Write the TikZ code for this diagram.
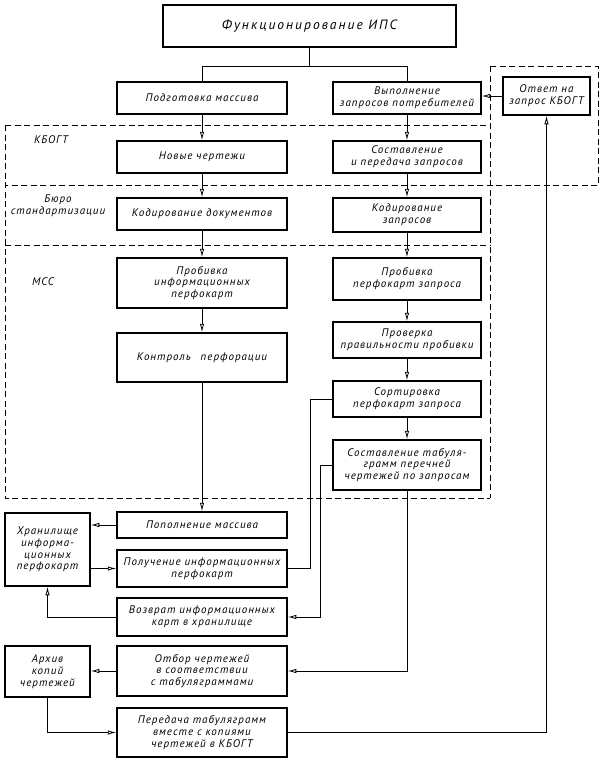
\documentclass[tikz,border=0pt]{standalone}
\usepackage{fontspec}
\setmainfont{PT Sans}[LetterSpace=9]
\newfontfamily\titlefont{PT Sans}[LetterSpace=15]
\usetikzlibrary{arrows.meta}
\begin{document}
\begin{tikzpicture}[x=1pt,y=1pt,
  box/.style={draw, line width=1.5pt, align=center, inner sep=1pt, font=\itshape\fontsize{11}{11.8}\selectfont},
  lab/.style={align=center, inner sep=0pt, font=\itshape\fontsize{11}{11.8}\selectfont},
  conn/.style={line width=0.8pt},
  arr/.style={conn, -{Latex[open,length=8.5pt,width=4.4pt]}},
  dline/.style={line width=0.9pt, dash pattern=on 6pt off 3.5pt}]
\useasboundingbox (0,0) rectangle (604,-761);
% dashed regions
\draw[dline] (5,-125) -- (490,-125);
\draw[dline] (490,-66) -- (598,-66) -- (598,-185) -- (5,-185);
\draw[dline] (490,-66) -- (490,-498);
\draw[dline] (5,-125) -- (5,-498) -- (490,-498);
\draw[dline] (5,-245) -- (490,-245);
% labels
\node[lab] (lkbogt) at (51,-140) {КБОГТ};
\node[lab] (lbur) at (58,-206) {Бюро\\стандартизации};
\node[lab] (lmss) at (43,-282) {МСС};
% boxes
\node[box, minimum width=293pt, minimum height=42pt, font=\titlefont\itshape\fontsize{13.5}{15}\selectfont] (top) at (309.5,-26) {Функционирование ИПС};
\node[box, minimum width=170pt, minimum height=32pt] (podg) at (202,-98) {Подготовка массива};
\node[box, minimum width=148pt, minimum height=32pt] (vyp) at (407,-98) {Выполнение\\запросов потребителей};
\node[box, minimum width=87pt, minimum height=38pt] (otvet) at (546.5,-96) {Ответ на\\запрос КБОГТ};
\node[box, minimum width=170pt, minimum height=32pt] (novye) at (202,-157) {Новые чертежи};
\node[box, minimum width=148pt, minimum height=32pt] (sost) at (407,-157) {Составление\\и передача запросов};
\node[box, minimum width=170pt, minimum height=32pt] (koddoc) at (202,-214) {Кодирование документов};
\node[box, minimum width=148pt, minimum height=34pt] (kodzap) at (407,-215) {Кодирование\\запросов};
\node[box, minimum width=170pt, minimum height=50pt] (prob1) at (202,-283) {Пробивка\\информационных\\перфокарт};
\node[box, minimum width=148pt, minimum height=42pt] (prob2) at (407,-279) {Пробивка\\перфокарт запроса};
\node[box, minimum width=148pt, minimum height=36pt] (prov) at (407,-340) {Проверка\\правильности пробивки};
\node[box, minimum width=170pt, minimum height=49pt] (kontr) at (202,-357.5) {Контроль\hspace{6pt} перфорации};
\node[box, minimum width=148pt, minimum height=36pt] (sort) at (407,-399) {Сортировка\\перфокарт запроса};
\node[box, minimum width=148pt, minimum height=50pt] (sosttab) at (407,-465) {Составление табуля-\\грамм перечней\\чертежей по запросам};
\node[box, minimum width=170pt, minimum height=26pt] (popol) at (202,-525) {Пополнение массива};
\node[box, minimum width=85pt, minimum height=73pt] (hran) at (47.5,-549.5) {Хранилище\\информа-\\ционных\\перфокарт};
\node[box, minimum width=170pt, minimum height=37pt] (poluch) at (202,-568.5) {Получение информационных\\перфокарт};
\node[box, minimum width=170pt, minimum height=38pt] (vozvr) at (202,-617) {Возврат информационных\\карт в хранилище};
\node[box, minimum width=170pt, minimum height=50pt] (otbor) at (202,-671) {Отбор чертежей\\в соответствии\\с табуляграммами};
\node[box, minimum width=85pt, minimum height=51pt] (arhiv) at (47.5,-671.5) {Архив\\копий\\чертежей};
\node[box, minimum width=170pt, minimum height=49pt] (pered) at (202,-732.5) {Передача табуляграмм\\вместе с копиями\\чертежей в КБОГТ};
% top connectors
\coordinate (split) at ([yshift=-19pt]top.south);
\draw[conn] (top.south) -- (split);
\draw[conn] (split) -| (podg.north);
\draw[conn] (split) -| (vyp.north);
% left column
\draw[arr] (podg) -- (novye);
\draw[arr] (novye) -- (koddoc);
\draw[arr] (koddoc) -- (prob1);
\draw[arr] (prob1) -- (kontr);
\draw[arr] (kontr) -- (popol);
% right column
\draw[arr] (vyp) -- (sost);
\draw[arr] (sost) -- (kodzap);
\draw[arr] (kodzap) -- (prob2);
\draw[arr] (prob2) -- (prov);
\draw[arr] (prov) -- (sort);
\draw[arr] (sort) -- (sosttab);
% answer
\draw[arr] (otvet.west) -- (otvet.west -| vyp.east);
% storage
\draw[arr] (popol.west) -- (popol.west -| hran.east);
\draw[arr] (poluch.west -| hran.east) -- (poluch.west);
\draw[arr] (vozvr.west) -| (hran.south);
\draw[conn] (sort.west) -- ++(-22,0) |- (poluch.east);
\draw[arr] (sosttab.west) -- ++(-12,0) |- (vozvr.east);
\draw[arr] (sosttab.south) |- (otbor.east);
\draw[arr] (otbor.west) -- (otbor.west -| arhiv.east);
\draw[arr] (arhiv.south) |- (pered.west);
\draw[arr] (pered.east) -| (otvet.south);
\end{tikzpicture}
\end{document}
